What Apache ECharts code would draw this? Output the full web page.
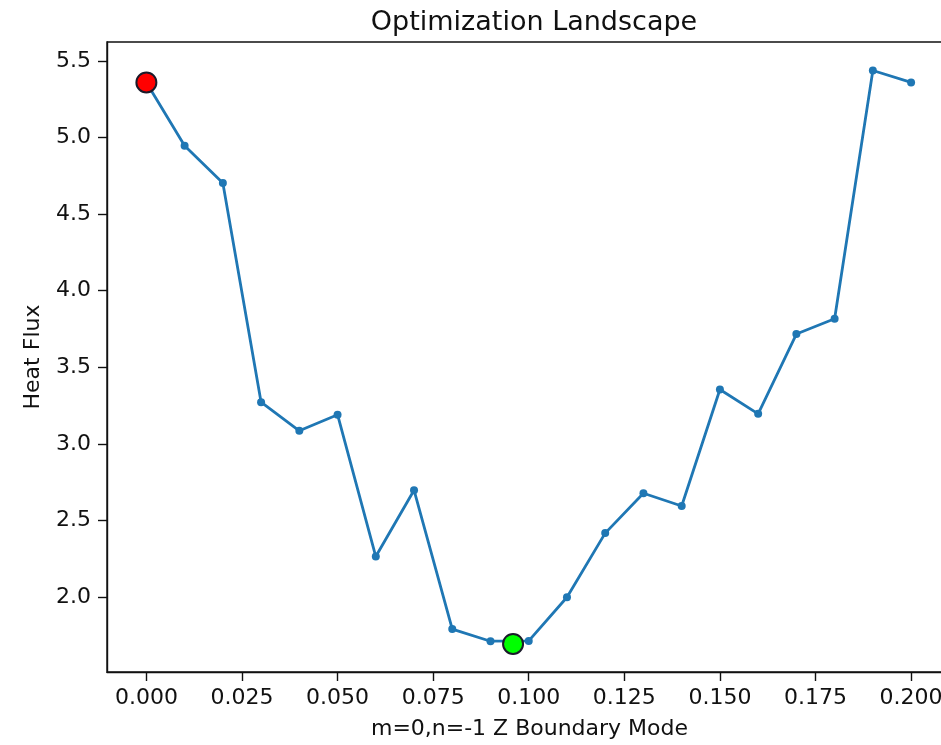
<!DOCTYPE html>
<html>
<head>
<meta charset="utf-8">
<script src="https://cdn.jsdelivr.net/npm/echarts@6/dist/echarts.min.js"></script>
<style>
  html, body { margin: 0; padding: 0; background: #fff; }
  #chart { width: 941px; height: 745px; }
</style>
</head>
<body>
<div id="chart"></div>
<script>
// Boundary mode amplitudes scanned (x) and resulting heat flux (y)
const modeValues = [0.00, 0.01, 0.02, 0.03, 0.04, 0.05, 0.06, 0.07, 0.08, 0.09, 0.10,
                    0.11, 0.12, 0.13, 0.14, 0.15, 0.16, 0.17, 0.18, 0.19, 0.20];
const heatFlux = [5.36, 4.946, 4.703, 3.272, 3.085, 3.19, 2.264, 2.697, 1.79, 1.711, 1.713,
                  1.998, 2.417, 2.677, 2.594, 3.355, 3.196, 3.717, 3.817, 5.438, 5.36];

// Starting configuration and the optimum found
const startPoint = [0.0, 5.36];
const bestPoint = [0.0959, 1.693];

// Tick labels
const xTicks = [0.000, 0.025, 0.050, 0.075, 0.100, 0.125, 0.150, 0.175, 0.200];
const yTicks = [2.0, 2.5, 3.0, 3.5, 4.0, 4.5, 5.0, 5.5];

const FONT = 'DejaVu Sans';
const INK = '#111';

const chart = echarts.init(document.getElementById('chart'), null, { renderer: 'canvas' });

chart.setOption({
  animation: false,
  backgroundColor: '#fff',
  title: {
    text: 'Optimization Landscape',
    left: 529,
    top: 4,
    textAlign: 'center',
    textStyle: { fontFamily: FONT, fontSize: 27, fontWeight: 'normal', color: INK }
  },
  grid: {
    left: 107, top: 42, width: 845, height: 630,
    outerBoundsMode: 'none',
    containLabel: false,
    show: true, borderColor: INK, borderWidth: 1.4, backgroundColor: 'transparent'
  },
  xAxis: {
    type: 'value',
    min: -0.0103, max: 0.2107,
    name: 'm=0,n=-1 Z Boundary Mode',
    nameLocation: 'middle',
    nameGap: 46,
    nameTextStyle: { fontFamily: FONT, fontSize: 22, color: INK },
    axisLine: { show: true, onZero: false, lineStyle: { color: INK, width: 1.4 } },
    axisTick: { show: true, length: 9, lineStyle: { color: INK, width: 1.4 }, customValues: xTicks },
    axisLabel: {
      customValues: xTicks, margin: 15,
      fontFamily: FONT, fontSize: 22, color: INK,
      formatter: v => v.toFixed(3)
    },
    splitLine: { show: false }
  },
  yAxis: {
    type: 'value',
    min: 1.51, max: 5.624,
    name: 'Heat Flux',
    nameLocation: 'middle',
    nameGap: 63,
    nameRotate: 90,
    nameTextStyle: { fontFamily: FONT, fontSize: 22, color: INK },
    axisLine: { show: true, onZero: false, lineStyle: { color: INK, width: 1.4 } },
    axisTick: { show: true, length: 9, lineStyle: { color: INK, width: 1.4 }, customValues: yTicks },
    axisLabel: {
      customValues: yTicks, margin: 16,
      fontFamily: FONT, fontSize: 22, color: INK,
      formatter: v => v.toFixed(1)
    },
    splitLine: { show: false }
  },
  series: [
    {
      type: 'line',
      data: modeValues.map((x, i) => [x, heatFlux[i]]),
      symbol: 'circle',
      symbolSize: 8,
      showAllSymbol: true,
      itemStyle: { color: '#1f77b4' },
      lineStyle: { color: '#1f77b4', width: 2.8 },
      z: 2
    },
    {
      type: 'scatter',
      data: [startPoint],
      symbol: 'circle',
      symbolSize: 20,
      itemStyle: { color: '#ff0000', borderColor: '#1a1a2a', borderWidth: 2, opacity: 1 },
      z: 3
    },
    {
      type: 'scatter',
      data: [bestPoint],
      symbol: 'circle',
      symbolSize: 20,
      itemStyle: { color: '#00ff00', borderColor: '#1a1a2a', borderWidth: 2, opacity: 1 },
      z: 3
    }
  ]
});
</script>
</body>
</html>
